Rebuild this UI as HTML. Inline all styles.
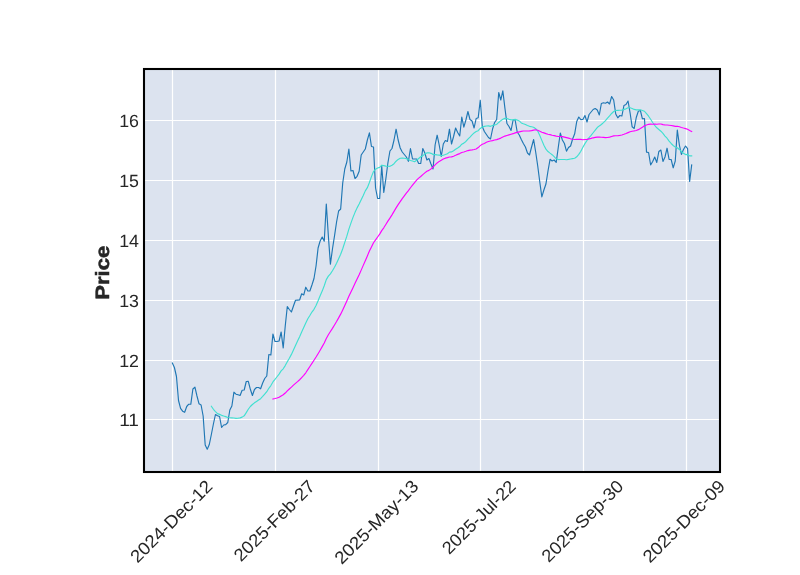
<!DOCTYPE html>
<html><head><meta charset="utf-8"><title>chart</title>
<style>
html,body{margin:0;padding:0;background:#fff;}
body{width:800px;height:575px;overflow:hidden;}
svg{display:block;will-change:transform;}
text{font-family:"Liberation Sans",sans-serif;fill:#262626;text-rendering:geometricPrecision;}
</style></head><body>
<svg width="800" height="575" viewBox="0 0 800 575">
<rect x="0" y="0" width="800" height="575" fill="#ffffff"/>
<rect x="144" y="69" width="576" height="403" fill="#dce3ef"/>
<g stroke="#ffffff" stroke-width="1.22">
<line x1="172.5" y1="69" x2="172.5" y2="472"/>
<line x1="275.5" y1="69" x2="275.5" y2="472"/>
<line x1="378.5" y1="69" x2="378.5" y2="472"/>
<line x1="480.5" y1="69" x2="480.5" y2="472"/>
<line x1="583.5" y1="69" x2="583.5" y2="472"/>
<line x1="686.5" y1="69" x2="686.5" y2="472"/>
<line x1="144" y1="120.5" x2="720" y2="120.5"/>
<line x1="144" y1="180.5" x2="720" y2="180.5"/>
<line x1="144" y1="240.5" x2="720" y2="240.5"/>
<line x1="144" y1="300.5" x2="720" y2="300.5"/>
<line x1="144" y1="360.5" x2="720" y2="360.5"/>
<line x1="144" y1="419.5" x2="720" y2="419.5"/>
</g>
<g fill="none" stroke-linejoin="round" stroke-linecap="square">
<polyline points="172.35,363.00 174.40,367.50 176.46,376.50 178.51,400.50 180.56,408.30 182.61,411.20 184.67,412.30 186.72,406.50 188.77,404.20 190.82,404.20 192.88,389.00 194.93,387.20 196.98,396.00 199.04,403.80 201.09,405.00 203.14,416.00 205.19,445.00 207.25,449.20 209.30,444.50 211.35,434.50 213.40,424.00 215.46,414.50 217.51,415.80 219.56,416.50 221.61,427.50 223.67,425.00 225.72,424.60 227.77,422.50 229.83,410.00 231.88,406.00 233.93,392.20 235.98,394.20 238.04,394.80 240.09,395.50 242.14,390.20 244.19,390.00 246.25,381.50 248.30,381.30 250.35,389.30 252.41,395.50 254.46,389.50 256.51,387.50 258.56,387.50 260.62,388.80 262.67,383.00 264.72,378.50 266.77,376.00 268.83,354.50 270.88,355.00 272.93,334.00 274.99,341.50 277.04,341.50 279.09,341.00 281.14,332.00 283.20,348.00 285.25,326.00 287.30,306.50 289.35,309.50 291.41,312.00 293.46,306.00 295.51,300.20 297.56,300.10 299.62,300.00 301.67,293.80 303.72,295.00 305.78,287.20 307.83,291.00 309.88,291.00 311.93,285.00 313.99,278.50 316.04,266.00 318.09,248.00 320.14,241.00 322.20,237.00 324.25,241.20 326.30,204.00 328.36,236.00 330.41,264.20 332.46,249.00 334.51,235.80 336.57,222.00 338.62,211.00 340.67,209.00 342.72,183.00 344.78,169.00 346.83,162.00 348.88,149.00 350.93,171.00 352.99,170.50 355.04,178.50 357.09,176.30 359.15,171.20 361.20,155.00 363.25,152.00 365.30,149.00 367.36,140.00 369.41,132.80 371.46,146.50 373.51,147.00 375.57,188.00 377.62,198.50 379.67,198.50 381.73,166.00 383.78,192.50 385.83,179.00 387.88,163.00 389.94,151.00 391.99,148.50 394.04,140.00 396.09,129.20 398.15,140.00 400.20,148.00 402.25,152.00 404.31,154.50 406.36,157.00 408.41,161.30 410.46,148.50 412.52,159.00 414.57,159.00 416.62,159.00 418.67,163.50 420.73,163.50 422.78,148.50 424.83,153.00 426.88,160.00 428.94,158.50 430.99,164.00 433.04,169.00 435.10,145.00 437.15,135.20 439.20,145.00 441.25,156.50 443.31,144.00 445.36,140.50 447.41,141.50 449.46,129.20 451.52,144.00 453.57,136.50 455.62,128.00 457.68,132.50 459.73,136.00 461.78,117.00 463.83,127.20 465.89,120.00 467.94,111.50 469.99,119.50 472.04,121.00 474.10,128.00 476.15,118.50 478.20,117.80 480.25,100.20 482.31,126.50 484.36,131.50 486.41,134.50 488.47,137.50 490.52,139.00 492.57,129.00 494.62,122.50 496.68,119.50 498.73,92.50 500.78,100.00 502.83,90.80 504.89,108.00 506.94,123.50 508.99,126.50 511.05,130.50 513.10,120.00 515.15,120.00 517.20,132.00 519.26,135.00 521.31,139.50 523.36,143.50 525.41,147.00 527.47,153.00 529.52,155.00 531.57,147.00 533.63,139.50 535.68,152.00 537.73,166.00 539.78,182.00 541.84,196.80 543.89,190.00 545.94,184.00 547.99,171.00 550.05,159.30 552.10,161.00 554.15,160.00 556.20,162.30 558.26,147.50 560.31,133.00 562.36,140.00 564.42,143.50 566.47,151.20 568.52,147.50 570.57,146.00 572.63,139.00 574.68,133.80 576.73,121.50 578.78,117.00 580.84,119.60 582.89,119.40 584.94,115.50 587.00,122.00 589.05,114.50 591.10,112.00 593.15,109.50 595.21,108.50 597.26,110.00 599.31,115.00 601.36,103.50 603.42,102.80 605.47,103.20 607.52,102.00 609.58,104.00 611.63,96.50 613.68,100.00 615.73,114.00 617.79,117.80 619.84,115.50 621.89,116.00 623.94,105.50 626.00,104.50 628.05,101.00 630.10,113.00 632.15,126.80 634.21,128.50 636.26,117.50 638.31,111.30 640.37,110.50 642.42,118.80 644.47,118.50 646.52,152.10 648.58,152.50 650.63,165.00 652.68,161.50 654.73,157.00 656.79,162.50 658.84,151.50 660.89,150.00 662.95,161.50 665.00,157.00 667.05,148.20 669.10,159.50 671.16,159.50 673.21,167.80 675.26,161.00 677.31,130.00 679.37,145.00 681.42,154.50 683.47,149.50 685.53,146.00 687.58,148.70 689.63,181.50 691.68,165.00" stroke="#1f77b4" stroke-width="1.15"/>
<polyline points="211.35,406.22 213.40,409.27 215.46,411.62 217.51,413.59 219.56,414.39 221.61,415.34 223.67,416.04 225.72,416.65 227.77,417.45 229.83,417.74 231.88,417.83 233.93,417.99 235.98,418.34 238.04,418.28 240.09,417.86 242.14,417.12 244.19,415.82 246.25,412.65 248.30,409.25 250.35,406.50 252.41,404.54 254.46,402.82 256.51,401.47 258.56,400.06 260.62,398.67 262.67,396.45 264.72,394.12 266.77,391.69 268.83,388.29 270.88,385.54 272.93,381.94 274.99,379.41 277.04,376.77 279.09,374.08 281.14,370.91 283.20,368.79 285.25,365.59 287.30,361.84 289.35,358.25 291.41,354.39 293.46,349.92 295.51,345.45 297.56,341.08 299.62,336.71 301.67,331.96 303.72,327.56 305.78,322.99 307.83,318.74 309.88,315.56 311.93,312.06 313.99,309.29 316.04,305.51 318.09,300.84 320.14,295.84 322.20,291.09 324.25,285.75 326.30,279.65 328.36,276.12 330.41,273.86 332.46,270.71 334.51,267.20 336.57,263.29 338.62,258.83 340.67,254.28 342.72,248.74 344.78,242.44 346.83,236.19 348.88,229.08 350.93,223.08 352.99,217.36 355.04,212.36 357.09,207.88 359.15,204.03 361.20,199.73 363.25,195.48 365.30,190.88 367.36,187.68 369.41,182.52 371.46,176.63 373.51,171.53 375.57,169.14 377.62,167.97 379.67,167.34 381.73,165.19 383.78,165.67 385.83,166.17 387.88,166.22 389.94,166.31 391.99,165.19 394.04,163.67 396.09,161.20 398.15,159.38 400.20,158.22 402.25,158.07 404.31,158.20 406.36,158.60 408.41,159.67 410.46,160.45 412.52,161.07 414.57,161.68 416.62,160.22 418.67,158.47 420.73,156.72 422.78,155.85 424.83,153.88 426.88,152.93 428.94,152.70 430.99,153.35 433.04,154.38 435.10,154.62 437.15,154.93 439.20,155.18 441.25,155.60 443.31,155.20 445.36,154.50 447.41,153.72 449.46,152.12 451.52,151.89 453.57,150.77 455.62,149.22 457.68,147.90 459.73,146.52 461.78,144.19 463.83,143.13 465.89,141.48 467.94,139.06 469.99,137.10 472.04,134.95 474.10,132.91 476.15,131.58 478.20,130.71 480.25,128.47 482.31,126.97 484.36,126.34 486.41,126.05 488.47,125.84 490.52,126.33 492.57,125.58 494.62,124.88 496.68,124.46 498.73,122.46 500.78,120.66 502.83,119.35 504.89,118.39 506.94,118.57 508.99,119.32 511.05,119.87 513.10,119.82 515.15,119.42 517.20,120.09 519.26,120.95 521.31,122.92 523.36,123.77 525.41,124.54 527.47,125.47 529.52,126.34 531.57,126.74 533.63,127.27 535.68,128.74 537.73,131.06 539.78,135.54 541.84,140.38 543.89,145.34 545.94,149.14 547.99,151.52 550.05,153.16 552.10,154.68 554.15,156.68 556.20,158.80 558.26,159.57 560.31,159.47 562.36,159.50 564.42,159.50 566.47,159.70 568.52,159.43 570.57,158.98 572.63,158.58 574.68,158.29 576.73,156.77 578.78,154.32 580.84,151.20 582.89,147.33 584.94,143.61 587.00,140.50 589.05,137.68 591.10,135.31 593.15,132.74 595.21,130.17 597.26,127.55 599.31,125.92 601.36,124.45 603.42,122.59 605.47,120.58 607.52,118.12 609.58,115.94 611.63,113.47 613.68,111.52 615.73,110.53 617.79,110.34 619.84,110.27 621.89,110.09 623.94,109.39 626.00,108.84 628.05,107.79 630.10,107.72 632.15,108.45 634.21,109.41 636.26,109.85 638.31,109.92 640.37,109.70 642.42,110.46 644.47,111.25 646.52,113.69 648.58,116.22 650.63,119.27 652.68,122.51 654.73,125.37 656.79,127.79 658.84,129.47 660.89,131.20 662.95,133.47 665.00,136.05 667.05,138.23 669.10,141.16 671.16,143.48 673.21,145.53 675.26,147.16 677.31,147.78 679.37,149.47 681.42,151.67 683.47,153.20 685.53,154.58 687.58,154.41 689.63,155.86 691.68,155.86" stroke="#40e0d0" stroke-width="1.15"/>
<polyline points="272.93,398.99 274.99,398.56 277.04,398.04 279.09,397.33 281.14,395.96 283.20,394.76 285.25,393.05 287.30,390.94 289.35,389.00 291.41,387.15 293.46,385.19 295.51,383.41 297.56,381.67 299.62,379.75 301.67,377.55 303.72,375.35 305.78,372.77 307.83,369.69 309.88,366.53 311.93,363.34 313.99,360.22 316.04,357.06 318.09,353.73 320.14,350.23 322.20,346.64 324.25,342.92 326.30,338.50 328.36,334.73 330.41,331.56 332.46,328.34 334.51,324.94 336.57,321.53 338.62,317.87 340.67,314.15 342.72,309.90 344.78,305.48 346.83,300.92 348.88,296.27 350.93,292.06 352.99,287.69 355.04,283.35 357.09,279.08 359.15,274.76 361.20,270.11 363.25,265.37 365.30,260.69 367.36,255.92 369.41,251.06 371.46,246.90 373.51,242.74 375.57,239.82 377.62,236.96 379.67,234.10 381.73,230.60 383.78,227.81 385.83,224.43 387.88,221.17 389.94,218.06 391.99,214.84 394.04,211.40 396.09,207.86 398.15,204.66 400.20,201.61 402.25,198.65 404.31,195.87 406.36,193.11 408.41,190.59 410.46,187.74 412.52,185.10 414.57,182.58 416.62,180.19 418.67,178.14 420.73,176.45 422.78,174.60 424.83,172.92 426.88,171.30 428.94,170.39 430.99,168.95 433.04,167.04 435.10,164.96 437.15,162.95 439.20,161.41 441.25,160.32 443.31,159.02 445.36,158.17 447.41,157.62 449.46,156.96 451.52,156.86 453.57,156.17 455.62,155.32 457.68,154.40 459.73,153.60 461.78,152.51 463.83,151.96 465.89,151.32 467.94,150.57 469.99,150.16 472.04,149.92 474.10,149.55 476.15,148.98 478.20,147.58 480.25,145.61 482.31,144.17 484.36,143.48 486.41,142.32 488.47,141.49 490.52,141.01 492.57,140.57 494.62,140.05 496.68,139.64 498.73,138.91 500.78,138.11 502.83,136.96 504.89,136.08 506.94,135.46 508.99,134.85 511.05,134.24 513.10,133.67 515.15,132.89 517.20,132.35 519.26,131.87 521.31,131.39 523.36,130.99 525.41,130.96 527.47,130.96 529.52,130.86 531.57,130.63 533.63,130.14 535.68,129.80 537.73,130.22 539.78,131.15 541.84,132.19 543.89,132.86 545.94,133.66 547.99,134.27 550.05,134.63 552.10,135.26 554.15,135.58 556.20,136.10 558.26,136.49 560.31,136.50 562.36,136.58 564.42,137.11 566.47,137.59 568.52,138.14 570.57,138.83 572.63,139.22 574.68,139.47 576.73,139.34 578.78,139.31 580.84,139.35 582.89,139.73 584.94,139.51 587.00,139.32 589.05,138.92 591.10,138.41 593.15,137.82 595.21,137.41 597.26,137.16 599.31,137.07 601.36,137.29 603.42,137.35 605.47,137.60 607.52,137.48 609.58,137.09 611.63,136.49 613.68,135.88 615.73,135.76 617.79,135.71 619.84,135.38 621.89,135.00 623.94,134.32 626.00,133.54 628.05,132.62 630.10,131.82 632.15,131.26 634.21,130.89 636.26,130.45 638.31,129.64 640.37,128.53 642.42,127.26 644.47,125.70 646.52,124.94 648.58,124.31 650.63,124.19 652.68,124.23 654.73,124.15 656.79,124.20 658.84,123.99 660.89,124.04 662.95,124.61 665.00,124.95 667.05,125.04 669.10,125.21 671.16,125.45 673.21,125.88 675.26,126.32 677.31,126.25 679.37,126.72 681.42,127.47 683.47,128.06 685.53,128.60 687.58,129.26 689.63,130.45 691.68,131.46" stroke="#ff00ff" stroke-width="1.15"/>
</g>
<rect x="144" y="69" width="576" height="403" fill="none" stroke="#000000" stroke-width="2.08"/>
<g font-size="17.7px">
<text x="139.0" y="126.6" text-anchor="end" textLength="19.8" lengthAdjust="spacingAndGlyphs">16</text>
<text x="139.0" y="186.6" text-anchor="end" textLength="19.8" lengthAdjust="spacingAndGlyphs">15</text>
<text x="139.0" y="246.6" text-anchor="end" textLength="19.8" lengthAdjust="spacingAndGlyphs">14</text>
<text x="139.0" y="306.6" text-anchor="end" textLength="19.8" lengthAdjust="spacingAndGlyphs">13</text>
<text x="139.0" y="366.6" text-anchor="end" textLength="19.8" lengthAdjust="spacingAndGlyphs">12</text>
<text x="139.0" y="425.6" text-anchor="end" textLength="19.8" lengthAdjust="spacingAndGlyphs">11</text>
</g>
<g font-size="17.7px">
<text transform="translate(213.7,487.5) rotate(-45)" text-anchor="end" textLength="107.9" lengthAdjust="spacingAndGlyphs">2024-Dec-12</text>
<text transform="translate(316.1,487.5) rotate(-45)" text-anchor="end" textLength="106.1" lengthAdjust="spacingAndGlyphs">2025-Feb-27</text>
<text transform="translate(419.6,487.5) rotate(-45)" text-anchor="end" textLength="110.1" lengthAdjust="spacingAndGlyphs">2025-May-13</text>
<text transform="translate(517.0,487.5) rotate(-45)" text-anchor="end" textLength="95.8" lengthAdjust="spacingAndGlyphs">2025-Jul-22</text>
<text transform="translate(624.6,487.5) rotate(-45)" text-anchor="end" textLength="107.1" lengthAdjust="spacingAndGlyphs">2025-Sep-30</text>
<text transform="translate(726.2,487.5) rotate(-45)" text-anchor="end" textLength="107.9" lengthAdjust="spacingAndGlyphs">2025-Dec-09</text>
</g>
<text transform="translate(109.3,272.7) rotate(-90)" text-anchor="middle" font-size="19.3px" font-weight="bold" stroke="#262626" stroke-width="0.5" textLength="54.2" lengthAdjust="spacingAndGlyphs">Price</text>
</svg>
</body></html>
